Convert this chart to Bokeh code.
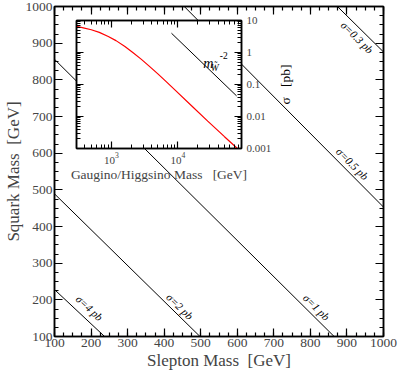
import math
from bokeh.plotting import figure
from bokeh.models import (Range1d, LinearAxis, LogAxis, SingleIntervalTicker,
                          FixedTicker, LogTicker, CustomJSTickFormatter)
from bokeh.layouts import row
from bokeh.embed import file_html
from bokeh.resources import INLINE
from bokeh.core.properties import value

FONT = "Liberation Serif"

# ---------------- data: main panel ----------------
slepton_limits = [100, 1000]
squark_limits = [100, 1000]

contour_labels = ["σ=4 pb", "σ=2 pb", "σ=1 pb", "σ=0.5 pb", "σ=0.3 pb"]
contour_slepton_start = [100, 100, 100, 455, 874]
contour_squark_start = [228, 489, 856, 1000, 1000]
contour_slepton_end = [237, 498, 865, 1000, 1000]
contour_squark_end = [100, 100, 100, 453, 876]

# where each contour label sits (slepton, squark)
label_slepton = [196, 443, 817, 915, 928]
label_squark = [178, 182, 180, 571, 916]

# ---------------- data: inset ----------------
gaugino_limits = [300, 90000]
xsec_limits = [0.001, 10]
gaugino_mass = [300, 380, 500, 660, 900, 1175, 1600, 2100, 2800, 3700,
                5000, 6600, 9000, 16000, 28000, 50000, 78000]
gaugino_xsec = [6.6, 5.9, 5.15, 4.25, 3.15, 2.35, 1.53, 1.0, 0.62, 0.375,
                0.214, 0.125, 0.068, 0.0217, 0.0072, 0.00234, 0.001]
scaling_mass = [8000, 76000]
scaling_xsec = [4.0, 0.044]
xsec_ticks = [0.001, 0.01, 0.1, 1, 10]
xsec_tick_labels = ["0.001", "0.01", "0.1", "1", "10"]

# ---------------- main figure ----------------
W, H = 398, 372
FL, FR, FT, FB = 52, 15, 6, 36

main = figure(width=W, height=H,
              x_range=Range1d(*slepton_limits), y_range=Range1d(*squark_limits),
              x_axis_location=None, y_axis_location=None,
              output_backend="svg", toolbar_location=None,
              min_border_left=FL, min_border_right=FR,
              min_border_top=FT, min_border_bottom=FB,
              background_fill_color="white", border_fill_color="white",
              outline_line_color="black", outline_line_width=1.5)
main.grid.visible = False

blank = CustomJSTickFormatter(code="return ''")


def lin_axis(label=None, show=True, label_standoff=0):
    ax = LinearAxis(ticker=SingleIntervalTicker(interval=100, num_minor_ticks=4))
    ax.major_tick_in = 8
    ax.major_tick_out = 0
    ax.minor_tick_in = 4
    ax.minor_tick_out = 0
    ax.axis_line_width = 1.5
    ax.major_tick_line_width = 1.2
    ax.minor_tick_line_width = 1.2
    ax.major_label_text_font = FONT
    ax.major_label_text_font_size = "13.5px"
    ax.major_label_standoff = 2
    if label:
        ax.axis_label = label
        ax.axis_label_text_font = FONT
        ax.axis_label_text_font_size = "17px"
        ax.axis_label_text_font_style = "normal"
        ax.axis_label_standoff = label_standoff
    if not show:
        ax.formatter = blank
        ax.major_label_text_font_size = "1px"
        ax.major_label_standoff = 0
    return ax


main.add_layout(lin_axis("Slepton Mass\u00a0 [GeV]", label_standoff=1), "below")
main.add_layout(lin_axis("Squark Mass\u00a0 [GeV]", label_standoff=0), "left")
main.add_layout(lin_axis(show=False), "above")
main.add_layout(lin_axis(show=False), "right")

main.segment(x0=contour_slepton_start, y0=contour_squark_start,
             x1=contour_slepton_end, y1=contour_squark_end,
             line_color="black", line_width=1)

sx = (W - FL - FR) / (slepton_limits[1] - slepton_limits[0])
sy = (H - FT - FB) / (squark_limits[1] - squark_limits[0])
angles = [math.atan2((y1 - y0) * sy, (x1 - x0) * sx)
          for x0, y0, x1, y1 in zip(contour_slepton_start, contour_squark_start,
                                    contour_slepton_end, contour_squark_end)]
main.text(x=label_slepton, y=label_squark, text=contour_labels, angle=angles,
          text_align="center", text_baseline="middle",
          text_font=value(FONT), text_font_style="italic",
          text_font_size="11px", text_color="black")

# ---------------- inset ----------------
IFL, IFT = 76, 20          # inset frame position in the page
IFW, IFH = 165, 128        # inset frame size
IBL, IBR = 14, 50          # inset borders
IW = IBL + IFW + IBR
IH = FT + IFH + FB
inset = figure(width=IW, height=IH,
               x_axis_type="log", y_axis_type="log",
               x_range=Range1d(*gaugino_limits), y_range=Range1d(*xsec_limits),
               x_axis_location=None, y_axis_location=None,
               output_backend="svg", toolbar_location=None,
               min_border_left=IBL, min_border_top=FT,
               min_border_right=IBR, min_border_bottom=FB,
               background_fill_color="white", border_fill_color=None,
               outline_line_color="black", outline_line_width=1.5)
inset.grid.visible = False

yminor = [k * t for t in xsec_ticks[:-1] for k in range(2, 10)]


def log_axis(kind, label=None, show=True):
    if kind == "x":
        ax = LogAxis(ticker=LogTicker(num_minor_ticks=10))
    else:
        ax = LogAxis(ticker=FixedTicker(ticks=xsec_ticks, minor_ticks=yminor))
        if show:
            ax.formatter = CustomJSTickFormatter(
                args=dict(tick_vals=xsec_ticks, tick_texts=xsec_tick_labels),
                code=("let best = 0;"
                      "for (let i = 0; i < tick_vals.length; i++) {"
                      "  if (Math.abs(Math.log10(tick_vals[i]) - Math.log10(tick)) <"
                      "      Math.abs(Math.log10(tick_vals[best]) - Math.log10(tick))) best = i; }"
                      "return tick_texts[best];"))
    ax.major_tick_in = 7
    ax.major_tick_out = 0
    ax.minor_tick_in = 4
    ax.minor_tick_out = 0
    ax.axis_line_width = 1.5
    ax.major_tick_line_width = 1.2
    ax.minor_tick_line_width = 1
    ax.major_label_text_font = FONT
    ax.major_label_text_font_size = "11px"
    ax.major_label_standoff = 5
    if label:
        ax.axis_label = label
        ax.axis_label_text_font = FONT
        ax.axis_label_text_font_size = "13.5px"
        ax.axis_label_text_font_style = "normal"
        ax.axis_label_standoff = 0
    if not show:
        ax.formatter = blank
        ax.major_label_text_font_size = "1px"
        ax.major_label_standoff = 0
    return ax


xb = log_axis("x", "Gaugino/Higgsino Mass\u00a0\u00a0 [GeV]")
xb.major_label_standoff = 4
inset.add_layout(xb, "below")
inset.add_layout(log_axis("x", show=False), "above")
inset.add_layout(log_axis("y"), "right")
inset.add_layout(log_axis("y", show=False), "left")

inset.line(gaugino_mass, gaugino_xsec, line_color="red", line_width=1.2)
inset.line(scaling_mass, scaling_xsec, line_color="black", line_width=1)

inset.text(x=[24000], y=[0.45], text=["m"], text_align="left", text_baseline="alphabetic",
           text_font=value(FONT), text_font_style="italic", text_font_size="14px")
inset.text(x=[24000], y=[0.45], text=["W\u0303"], x_offset=7.5, y_offset=4,
           text_align="left", text_baseline="alphabetic",
           text_font=value(FONT), text_font_style="italic", text_font_size="9.5px")
inset.text(x=[24000], y=[0.45], text=["-2"], x_offset=16.5, y_offset=-8,
           text_align="left", text_baseline="alphabetic",
           text_font=value(FONT), text_font_size="9.5px")

# the inset's y-axis title lies over the main panel (the inset border is
# transparent there), so it is drawn by the main panel, reading bottom-to-top
title_px, title_py = IFL + IFW + 43, IFT + IFH / 2     # page pixels
main.text(x=[slepton_limits[0] + (title_px - FL) / sx],
          y=[squark_limits[1] - (title_py - FT) / sy],
          text=["σ\u00a0\u00a0 [pb]"], angle=math.pi / 2,
          text_align="center", text_baseline="alphabetic",
          text_font=value(FONT), text_font_size="13.5px", text_color="black")

# overlay the inset on top of the main panel
inset.styles = {"position": "absolute",
                "left": f"{IFL - IBL}px", "top": f"{IFT - FT}px"}

p = row(main, inset)
p.styles = {"position": "relative"}

open("out.html", "w").write(file_html(p, INLINE))
